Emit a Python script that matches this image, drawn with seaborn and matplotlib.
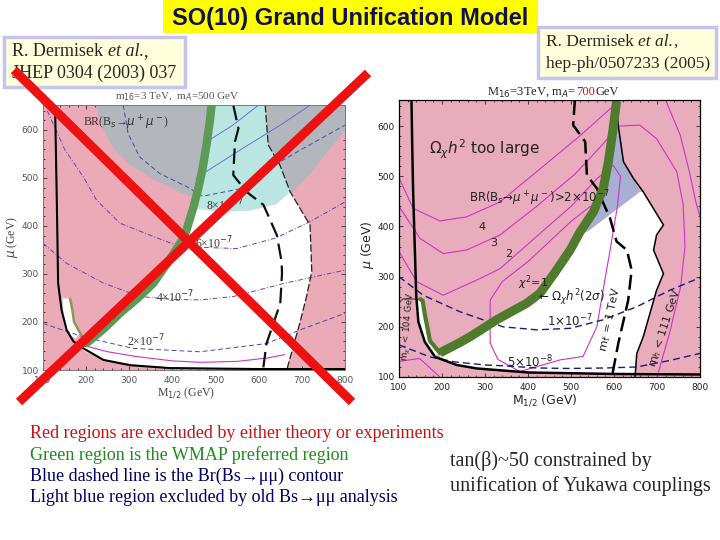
import numpy as np
import pandas as pd
import matplotlib.pyplot as plt
from matplotlib.lines import Line2D
from matplotlib.patches import Rectangle, Polygon
from matplotlib.text import Annotation
from matplotlib.ticker import MultipleLocator
import seaborn as sns

# all curves are (M_1/2, mu) pairs in GeV

# ---- left scan: m16 = 3 TeV, mA = 500 GeV
left_gray = [(222, 652), (240, 600), (265, 560), (300, 528), (350, 500), (400, 478), (450, 458),
             (500, 445), (560, 440), (620, 445), (673, 465), (720, 510), (760, 555), (800, 598), (800, 652)]
left_cyan = [(448, 437), (470, 490), (482, 550), (490, 610), (494, 652), (615, 652), (622, 569),
             (649, 527), (673, 471), (640, 445), (580, 432), (510, 430)]
left_white = [(185, 150), (201, 156), (240, 185), (278, 218), (320, 250), (356, 281), (390, 325),
              (418, 364), (429, 381), (448, 437), (510, 430), (580, 432), (640, 445), (673, 471),
              (700, 430), (719, 402), (723, 305), (710, 250), (695, 197), (665, 104), (500, 104),
              (350, 107), (240, 120), (195, 140)]
left_white_tab = [(145, 250), (163, 248), (168, 225), (172, 200), (186, 177), (175, 165), (155, 180), (148, 210)]
left_green = [(201, 156), (240, 185), (278, 218), (320, 250), (356, 281), (390, 325), (418, 364),
              (429, 381), (448, 437), (460, 478), (470, 520), (479, 569), (487, 620), (491, 652)]
left_green_tab = [(163, 248), (168, 225), (172, 200), (186, 177), (201, 156)]
left_black = [(128, 652), (130, 550), (132, 454), (135, 281), (143, 225), (155, 183), (170, 160),
              (186, 149), (240, 121), (302, 110), (394, 104), (600, 102), (800, 102)]
left_dashed = [(541, 652), (553, 603), (545, 576), (541, 506), (572, 471), (611, 444), (642, 381),
               (653, 326), (654, 301), (650, 239), (618, 155), (610, 100)]
left_edge = [(615, 652), (622, 569), (649, 527), (673, 471), (700, 430), (719, 402), (723, 305),
             (710, 250), (695, 197), (665, 100)]
left_magenta = [(190, 152), (250, 138), (317, 128), (400, 119), (464, 116), (550, 118), (620, 125), (660, 132)]
left_br2 = [(100, 197), (193, 169), (309, 145), (464, 138), (618, 155), (700, 185), (800, 218)]
left_br4 = [(100, 364), (155, 322), (240, 281), (325, 253), (400, 247), (464, 246), (541, 253),
            (657, 280), (800, 308)]
left_br6 = [(110, 640), (150, 560), (195, 500), (224, 454), (278, 406), (356, 378), (418, 357),
            (549, 353), (640, 375), (719, 409), (800, 450)]
left_br8 = [(286, 652), (297, 593), (324, 544), (371, 509), (433, 482), (470, 462), (560, 478),
            (610, 513), (700, 560), (800, 610)]
left_diag1 = [(455, 500), (560, 560), (650, 610), (720, 652)]
left_diag2 = [(470, 570), (540, 610), (600, 652)]

# ---- right scan: M16 = 3 TeV, mA = 700 GeV
right_white = [(195, 140), (205, 150), (240, 168), (265, 180), (327, 214), (397, 247), (428, 267),
               (460, 305), (498, 353), (521, 389), (537, 389), (660, 469), (668, 469), (715, 403),
               (699, 383), (692, 353), (715, 306), (699, 273), (668, 180), (653, 147), (649, 106),
               (400, 108), (281, 117), (234, 124)]
right_white_tab = [(141, 252), (153, 251), (160, 225), (172, 172), (195, 150), (184, 140), (160, 170), (145, 210)]
right_lavender = [(537, 389), (552, 429), (575, 476), (587, 529), (598, 595), (606, 615), (612, 580),
                  (622, 529), (645, 496), (660, 469)]
right_green = [(195, 148), (240, 168), (265, 180), (327, 214), (397, 247), (428, 267), (460, 305),
               (498, 353), (521, 389), (552, 429), (575, 476), (587, 529), (598, 595), (606, 650)]
right_green_tab = [(150, 255), (155, 252), (160, 225), (172, 172), (195, 148)]
right_brown = [(100, 248), (110, 256), (150, 255)]
right_black = [(129, 652), (131, 550), (133, 465), (140, 263), (145, 210), (160, 170), (184, 140),
               (234, 124), (281, 117), (400, 109), (600, 106), (800, 105)]
right_edge = [(606, 652), (610, 600), (622, 529), (645, 496), (668, 469), (715, 403), (699, 383),
              (692, 353), (715, 306), (699, 273), (668, 180), (653, 147), (649, 100)]
right_dashed = [(509, 652), (505, 602), (533, 569), (537, 502), (560, 476), (591, 416), (606, 370),
                (630, 353), (641, 313), (633, 253), (610, 167), (595, 100)]
right_chi4 = [(100, 497), (133, 436), (195, 411), (257, 419), (335, 449), (420, 509), (520, 580), (614, 652)]
right_chi3 = [(100, 440), (149, 376), (203, 346), (257, 353), (335, 383), (420, 440), (510, 505),
              (570, 560), (610, 600), (660, 602), (699, 575), (746, 509), (761, 443), (765, 360),
              (755, 280), (730, 190), (700, 100)]
right_chi2 = [(100, 350), (141, 290), (203, 263), (288, 296), (335, 316), (420, 380), (500, 440),
              (560, 495), (598, 522), (615, 500), (608, 440), (598, 390), (591, 353), (580, 300),
              (560, 200), (528, 141), (474, 134), (381, 111), (330, 135), (312, 168)]
right_chi1 = [(312, 168), (312, 253), (340, 290), (400, 330), (450, 370), (500, 410), (545, 440)]
right_outer = [(720, 652), (754, 582), (775, 510), (790, 450), (800, 420)]
right_low = [(100, 131), (148, 137), (195, 100)]
right_br1 = [(100, 300), (156, 263), (242, 230), (342, 200), (420, 194), (498, 197), (575, 214),
             (653, 240), (730, 273), (800, 298)]
right_br05 = [(100, 164), (172, 140), (230, 130), (300, 124), (350, 122), (420, 118), (498, 117),
              (580, 118), (653, 120), (730, 133), (800, 147)]

x_ticks = [100, 200, 300, 400, 500, 600, 700, 800]
y_ticks = [100, 200, 300, 400, 500, 600]

notes = ["Red regions are excluded by either theory or experiments",
         "Green region is the WMAP preferred region",
         "Blue dashed line is the Br(Bs\u2192\u03bc\u03bc) contour",
         "Light blue region excluded by old Bs\u2192\u03bc\u03bc analysis"]
note_colors = ["#cc1111", "#1f8a1f", "#000066", "#000066"]

sns.set_theme(style="ticks")
plt.rcParams['font.family'] = ['DejaVu Sans']
plt.rcParams['mathtext.fontset'] = 'dejavusans'
SERIF = ['Liberation Serif', 'DejaVu Serif']


def line(ax, pts, **kw):
    df = pd.DataFrame(pts, columns=['M', 'mu'])
    sns.lineplot(data=df, x='M', y='mu', sort=False, estimator=None, ax=ax, legend=False, **kw)


def region(ax, pts, color, z=1):
    xy = np.array(pts, dtype=float)
    ax.add_patch(Polygon(xy, closed=True, facecolor=color, edgecolor='none', zorder=z))


def setup(ax, face, tick_color):
    ax.set_facecolor(face)
    ax.set_xlim(100, 800)
    ax.set_ylim(100, 652)
    ax.set_xticks(x_ticks)
    ax.set_yticks(y_ticks)
    ax.xaxis.set_minor_locator(MultipleLocator(20))
    ax.yaxis.set_minor_locator(MultipleLocator(20))
    ax.tick_params(direction='in', top=True, right=True, which='both', labelsize=6.5,
                   labelcolor=tick_color, length=3, width=0.6)
    ax.tick_params(axis='x', pad=4)
    ax.tick_params(axis='y', pad=3)
    ax.tick_params(which='minor', length=1.5)
    ax.set_xlabel("")
    ax.set_ylabel("")


def chain(fig, pieces, x, y, **kw):
    # consecutive text pieces on one line, each placed after the previous one
    prev = fig.text(x, y, pieces[0][0], va='bottom', zorder=4, **pieces[0][1], **kw)
    for s, extra in pieces[1:]:
        a = Annotation(s, xy=(1, 0), xycoords=prev, va='bottom', ha='left', zorder=4, **extra, **kw)
        fig.add_artist(a)
        prev = a


fig = plt.figure(figsize=(7.2, 5.4), dpi=100)
fig.patch.set_facecolor('white')

# ---------------- left panel
axl = fig.add_axes([43 / 720, 1 - 370 / 540, 302 / 720, 265 / 540])
region(axl, left_gray, '#b3b6bd')
region(axl, left_cyan, '#b9e6e1')
region(axl, left_white, 'white')
region(axl, left_white_tab, 'white')
line(axl, left_diag1, color='#6a5acd', lw=0.6)
line(axl, left_diag2, color='#6a5acd', lw=0.6)
line(axl, left_br2, color='#4a4aa8', lw=0.7, linestyle=(0, (5, 3)))
line(axl, left_br4, color='#6b3fb0', lw=0.7, linestyle=(0, (5, 2, 1, 2)))
line(axl, left_br6, color='#6b3fb0', lw=0.7, linestyle=(0, (5, 2, 1, 2)))
line(axl, left_br8, color='#4a4aa8', lw=0.7, linestyle=(0, (5, 3)))
line(axl, left_magenta, color='#cc33cc', lw=0.8)
line(axl, left_edge, color='#222222', lw=0.9, linestyle=(0, (6, 2)))
line(axl, left_dashed, color='#111111', lw=1.6, linestyle=(0, (7, 3)))
line(axl, left_black, color='black', lw=1.5)
line(axl, left_green, color='#5c9a55', lw=6, solid_capstyle='round')
line(axl, left_green_tab, color='#8a9a55', lw=1.8)
for txt, xy in [("BR(B$_s$\u2192$\\mu^+\\mu^-$)", (193, 615)), ("8\u00d710$^{-7}$", (478, 443)),
                ("6\u00d710$^{-7}$", (452, 364)), ("4\u00d710$^{-7}$", (362, 253)),
                ("2\u00d710$^{-7}$", (295, 160))]:
    axl.text(xy[0], xy[1], txt, fontsize=8.5, color='#333333', va='center', ha='left', zorder=6,
             family=SERIF)
setup(axl, '#eaaab8', '#555555')
for s in axl.spines.values():
    s.set_color('#777777')
    s.set_linewidth(0.7)
fig.text(177 / 720, 1 - 97 / 540, "m$_{16}$=3 TeV,  m$_A$=500 GeV", fontsize=8, color='#555555',
         ha='center', va='center', family=SERIF)
fig.text(12 / 720, 1 - 237 / 540, "$\\mu$ (GeV)", fontsize=8.5, color='#444444', rotation=90,
         ha='center', va='center', family=SERIF)
fig.text(186 / 720, 1 - 393 / 540, "M$_{1/2}$ (GeV)", fontsize=8.5, color='#444444',
         ha='center', va='center', family=SERIF)

# ---------------- right panel
axr = fig.add_axes([399 / 720, 1 - 377 / 540, 301 / 720, 277 / 540])
region(axr, right_white, 'white')
region(axr, right_white_tab, 'white')
region(axr, right_lavender, '#a9afd3')
for c in [right_chi4, right_chi3, right_chi2, right_chi1, right_outer, right_low]:
    line(axr, c, color='#cc33cc', lw=0.8)
line(axr, right_brown, color='#6b5050', lw=1.0)
line(axr, right_br1, color='#1a1a80', lw=1.0, linestyle=(0, (5, 3)))
line(axr, right_br05, color='#1a1a80', lw=1.0, linestyle=(0, (5, 3)))
line(axr, right_edge, color='black', lw=1.1)
line(axr, right_dashed, color='black', lw=1.8, linestyle=(0, (6, 2.5)))
line(axr, right_black, color='black', lw=1.8)
line(axr, right_green, color='#4e7c2c', lw=6.5, solid_capstyle='butt')
line(axr, right_green_tab, color='#4e7c2c', lw=3)
axr.text(170, 553, "$\\Omega_\\chi h^2$ too large", fontsize=11, color='#222222', va='center')
axr.text(262, 456, "BR(B$_s$\u2192$\\mu^+\\mu^-$)>2\u00d710$^{-7}$", fontsize=8.5, color='#222222', va='center')
for txt, xy in [("4", (285, 398)), ("3", (312, 368)), ("2", (346, 345)), ("$\\chi^2$=1", (376, 288))]:
    axr.text(xy[0], xy[1], txt, fontsize=8, color='#222222', va='center')
axr.text(424, 258, "\u2190 $\\Omega_\\chi h^2(2\\sigma)$", fontsize=8.5, color='#222222', va='center')
axr.text(445, 212, "1\u00d710$^{-7}$", fontsize=8.5, color='#222222', va='center')
axr.text(350, 130, "5\u00d710$^{-8}$", fontsize=8.5, color='#222222', va='center')
axr.text(590, 215, "m$_{\\tilde\\tau}$ = 1 TeV", fontsize=8, rotation=78, color='#222222',
         ha='center', va='center')
axr.text(718, 198, "m$_h$ < 111 GeV", fontsize=8, rotation=72, color='#222222', ha='center', va='center')
axr.text(121, 200, "m$_{\\chi^+}$< 104 GeV", fontsize=6.5, rotation=85, color='#222222',
         ha='center', va='center')
setup(axr, '#e9acbc', '#222222')
for s in axr.spines.values():
    s.set_color('black')
    s.set_linewidth(0.9)
fig.text(367 / 720, 1 - 245 / 540, "$\\mu$ (GeV)", fontsize=9, rotation=90, ha='center', va='center')
fig.text(545 / 720, 1 - 400 / 540, "M$_{1/2}$ (GeV)", fontsize=9, ha='center', va='center')

# right panel heading with red value
fig.patches.append(Rectangle((470 / 720, 1 - 100 / 540), 155 / 720, 18 / 540, transform=fig.transFigure,
                             facecolor='white', edgecolor='none', zorder=3))
head_y = 1 - 95 / 540
fig.text(576 / 720, head_y, "M$_{16}$=3TeV, m$_A$=", fontsize=9, ha='right', va='baseline',
         family=SERIF, zorder=4)
fig.text(576 / 720, head_y, "700", fontsize=9, color='#cc1111', ha='left', va='baseline',
         family=SERIF, zorder=4)
fig.text(595 / 720, head_y, "GeV", fontsize=9, ha='left', va='baseline', family=SERIF, zorder=4)

# ---------------- slide decorations
fig.patches.append(Rectangle((163 / 720, 1 - 33 / 540), 375 / 720, 33 / 540, transform=fig.transFigure,
                             facecolor='#ffff00', edgecolor='none', zorder=3))
fig.text(350 / 720, 1 - 18 / 540, "SO(10) Grand Unification Model", fontsize=17, fontweight='bold',
         color='#12124a', ha='center', va='center', family=['Liberation Sans', 'DejaVu Sans'], zorder=4)

for (x0, y0, x1, y1), second, fs in [((4, 37, 185, 87), "JHEP 0304 (2003) 037", 13),
                                     ((538, 27, 716, 78), "hep-ph/0507233 (2005)", 12.5)]:
    fig.patches.append(Rectangle((x0 / 720, 1 - y1 / 540), (x1 - x0) / 720, (y1 - y0) / 540,
                                 transform=fig.transFigure, facecolor='#ffffdc', edgecolor='#c4c4ee',
                                 lw=2.5, zorder=3))
    chain(fig, [("R. Dermisek ", {}), ("et al.", {'fontstyle': 'italic'}), (",", {})],
          (x0 + 8) / 720, 1 - (y0 + 23) / 540, fontsize=fs, family=SERIF)
    fig.text((x0 + 8) / 720, 1 - (y0 + 45) / 540, second, fontsize=fs, va='bottom',
             family=SERIF, zorder=4)

# the red cross over the older scan
for (x0, y0, x1, y1) in [(14, 70, 352, 402), (368, 73, 19, 402)]:
    fig.add_artist(Line2D([x0 / 720, x1 / 720], [1 - y0 / 540, 1 - y1 / 540], transform=fig.transFigure,
                          color='#ee1111', lw=6.5, solid_capstyle='butt', zorder=10))

for i, (s, c) in enumerate(zip(notes, note_colors)):
    fig.text(30 / 720, 1 - (434 + 21.3 * i) / 540, s, fontsize=13, color=c, va='center', family=SERIF)
fig.text(450 / 720, 1 - 461 / 540, "tan(\u03b2)~50 constrained by", fontsize=14.5, va='center', family=SERIF)
fig.text(450 / 720, 1 - 486 / 540, "unification of Yukawa couplings", fontsize=14.5, va='center', family=SERIF)

fig.savefig("out.png", dpi=100)
